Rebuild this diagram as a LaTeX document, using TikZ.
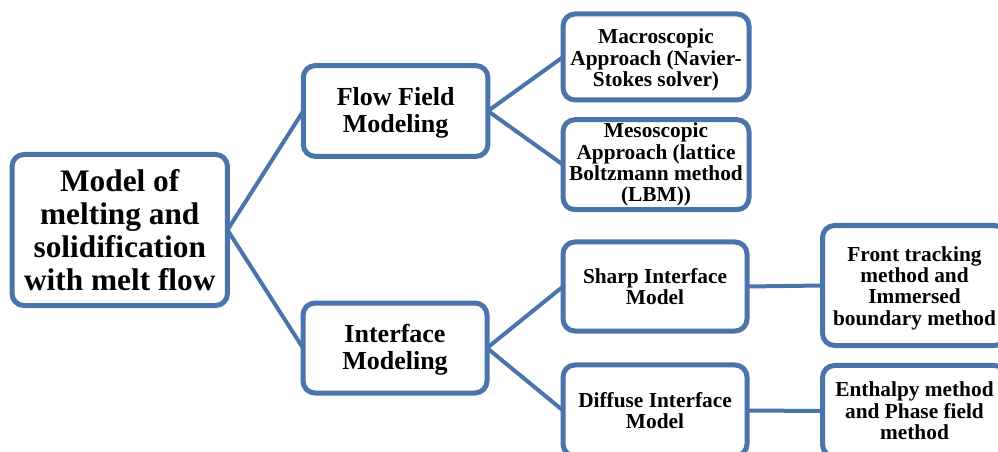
\documentclass[tikz,border=0pt]{standalone}
\usepackage{fontspec}
\setmainfont{Liberation Serif}
\definecolor{boxblue}{RGB}{74,116,172}
% stacked centred lines, drawn lower by the given amount while the
% box keeps its natural extents (so the node stays the same)
\newcommand{\droplines}[2]{\raisebox{#1}[\height][\depth]{\begin{tabular}{@{}c@{}}#2\end{tabular}}}
\tikzset{
  box/.style={draw=boxblue, line width=3.75pt, rounded corners=9pt,
    rectangle, fill=white, inner sep=0pt, outer sep=0pt, align=center,
    text=black, font=\bfseries\fontsize{16}{16}\selectfont},
  bigbox/.style={box, font=\bfseries\fontsize{19.5}{20.3}\selectfont},
  rootbox/.style={box, font=\bfseries\fontsize{23.5}{24.8}\selectfont},
  link/.style={draw=boxblue, line width=3pt}
}
\begin{document}
\begin{tikzpicture}[x=0.75pt, y=-0.75pt]
  \useasboundingbox (0,0) rectangle (998,452);
  \clip (0,0) rectangle (998,452);

  % root
  \node[rootbox, minimum width=161.6pt, minimum height=113.3pt] (root) at (119.75,230)
    {Model of\\melting and\\solidification\\with melt flow};

  % second level
  \node[bigbox, minimum width=138.5pt, minimum height=68.1pt] (flow) at (395.6,111)
    {\droplines{-2pt}{Flow Field\\Modeling}};
  \node[bigbox, minimum width=138pt, minimum height=67.5pt] (iface) at (395,348)
    {\droplines{-2pt}{Interface\\Modeling}};

  % third level
  \node[box, minimum width=139.5pt, minimum height=64.5pt] (macro) at (656,57)
    {\droplines{-3pt}{Macroscopic\\Approach (Navier-\\Stokes solver)}};
  \node[box, minimum width=139.5pt, minimum height=67.5pt] (meso) at (656,164.7)
    {Mesoscopic\\Approach (lattice\\Boltzmann method\\(LBM))};
  \node[box, minimum width=138pt, minimum height=66.8pt] (sharp) at (655,286.5)
    {Sharp Interface\\Model};
  \node[box, minimum width=138pt, minimum height=68.3pt] (diffuse) at (655,410.5)
    {Diffuse Interface\\Model};

  % fourth level
  \node[box, minimum width=138pt, minimum height=90pt] (front) at (914.5,285.5)
    {\droplines{-2.5pt}{Front tracking\\method and\\Immersed\\boundary method}};
  \node[box, minimum width=138pt, minimum height=68.3pt] (enth) at (914.5,411)
    {Enthalpy method\\and Phase field\\method};

  % connectors
  \draw[link] (root.east) -- (flow.west);
  \draw[link] (root.east) -- (iface.west);
  \draw[link] (flow.east) -- (macro.west);
  \draw[link] (flow.east) -- (meso.west);
  \draw[link] (iface.east) -- (sharp.west);
  \draw[link] (iface.east) -- (diffuse.west);
  \draw[link] (sharp.east) -- (front.west);
  \draw[link] (diffuse.east) -- (enth.west);
\end{tikzpicture}
\end{document}
